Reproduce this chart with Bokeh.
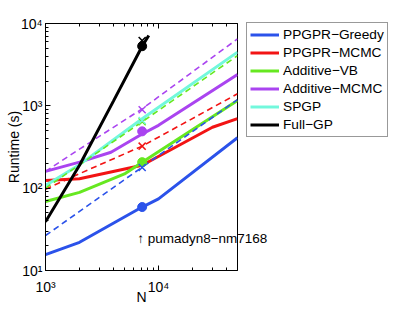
from bokeh.plotting import figure
from bokeh.models import ColumnDataSource, Legend, LegendItem, LogAxis, FixedTicker, Label
from bokeh.embed import file_html
from bokeh.resources import INLINE

# ---- data ----
greedy_N = [1000, 2000, 7168, 10000, 50000]
greedy_t = [15.6, 22, 59, 74, 410]
greedy_dash_N = [1000, 7168, 50000]
greedy_dash_t = [26.6, 180, 1190]

mcmc_N = [1000, 2000, 7168, 30000, 50000]
mcmc_t = [124, 130, 190, 550, 700]
mcmc_dash_N = [1000, 2000, 7168, 50000]
mcmc_dash_t = [97, 150, 324, 1400]

vb_N = [1000, 2000, 5000, 7168, 50000]
vb_t = [69, 89, 149, 207, 1160]
vb_dash_N = [1000, 7168, 50000]
vb_dash_t = [100, 640, 4070]

add_N = [1000, 2000, 3800, 7168, 10000, 50000]
add_t = [160, 207, 273, 455, 580, 2400]
add_dash_N = [1000, 2000, 7168, 50000]
add_dash_t = [160, 298, 920, 6500]

spgp_N = [1000, 2000, 7168, 50000]
spgp_t = [108, 193, 696, 4490]

full_N = [1000, 2000, 4000, 7168, 8200]
full_t = [39, 190, 1150, 5300, 7150]

dataset_N = 7168
dataset_label = "\u2191 pumadyn8\u2212nm7168"
dataset_label_t = 24.8
dot_t = [59, 207, 490, 5300]
cross_t = [178, 324, 640, 664, 895, 6200]

labels = ["PPGPR\u2212Greedy", "PPGPR\u2212MCMC", "Additive\u2212VB",
          "Additive\u2212MCMC", "SPGP", "Full\u2212GP"]

x_major = [1000, 10000]
x_minor = [2000, 3000, 4000, 5000, 6000, 7000, 8000, 9000, 20000, 30000, 40000, 50000]
y_major = [10, 100, 1000, 10000]
y_minor = [m * d for d in (10, 100, 1000) for m in range(2, 10)]
x_tick_labels = {1000: "10\u00b3", 10000: "10\u2074"}
y_tick_labels = {10: "10\u00b9", 100: "10\u00b2", 1000: "10\u00b3", 10000: "10\u2074"}

# ---- styles ----
BLUE = "#2b52ea"
RED = "#f21414"
GREEN = "#66e820"
PURPLE = "#aa44f0"
CYAN = "#72f8dc"
BLACK = "#000000"
FONT = "Liberation Sans"
DASH = "6 4"
W = 3
DW = 1.6

p = figure(x_axis_type="log", y_axis_type="log",
           x_range=(1000, 50000), y_range=(10, 10000),
           frame_width=192, frame_height=247,
           min_border_left=45, min_border_right=162,
           min_border_top=23, min_border_bottom=36,
           output_backend="svg", toolbar_location=None)
p.background_fill_color = "white"
p.border_fill_color = "white"
p.outline_line_color = "black"
p.outline_line_width = 1
p.xgrid.visible = False
p.ygrid.visible = False

def style_axis(ax, ticker, overrides):
    ax.ticker = ticker
    ax.major_label_overrides = overrides
    ax.axis_line_color = "black"
    ax.major_tick_in = 5
    ax.major_tick_out = 0
    ax.minor_tick_in = 3
    ax.minor_tick_out = 0
    ax.major_tick_line_color = "black"
    ax.minor_tick_line_color = "black"
    ax.major_label_text_font = FONT
    ax.major_label_text_font_size = "14px"
    ax.major_label_text_color = "black"
    ax.axis_label_text_font = FONT
    ax.axis_label_text_font_size = "14px"
    ax.axis_label_text_font_style = "normal"
    ax.axis_label_text_color = "black"

style_axis(p.xaxis[0], FixedTicker(ticks=x_major, minor_ticks=x_minor), x_tick_labels)
style_axis(p.yaxis[0], FixedTicker(ticks=y_major, minor_ticks=y_minor), y_tick_labels)
p.xaxis.axis_label = "N"
p.yaxis.axis_label = "Runtime (s)"
p.xaxis.major_label_standoff = 8
p.xaxis.axis_label_standoff = -9
p.yaxis.major_label_standoff = 3
p.yaxis.axis_label_standoff = -4

top_ax = LogAxis()
style_axis(top_ax, FixedTicker(ticks=x_major, minor_ticks=x_minor),
           {k: " " for k in x_major})
top_ax.major_label_text_alpha = 0
top_ax.major_label_text_font_size = "1px"
top_ax.major_label_standoff = 0
p.add_layout(top_ax, "above")

# ---- lines ----
r_greedy = p.line(greedy_N, greedy_t, line_color=BLUE, line_width=W)
r_mcmc = p.line(mcmc_N, mcmc_t, line_color=RED, line_width=W)
r_vb = p.line(vb_N, vb_t, line_color=GREEN, line_width=W)
r_add = p.line(add_N, add_t, line_color=PURPLE, line_width=W)
r_spgp = p.line(spgp_N, spgp_t, line_color=CYAN, line_width=W)

p.line(greedy_dash_N, greedy_dash_t, line_color=BLUE, line_width=DW, line_dash=DASH)
p.line(mcmc_dash_N, mcmc_dash_t, line_color=RED, line_width=DW, line_dash=DASH)
p.line(vb_dash_N, vb_dash_t, line_color=GREEN, line_width=DW, line_dash=DASH)
p.line(add_dash_N, add_dash_t, line_color=PURPLE, line_width=DW, line_dash=DASH)

r_full = p.line(full_N, full_t, line_color=BLACK, line_width=W)

# ---- dataset markers ----
dots = ColumnDataSource(dict(x=[dataset_N] * len(dot_t), y=dot_t,
                             c=[BLUE, GREEN, PURPLE, BLACK]))
p.scatter("x", "y", source=dots, marker="circle", size=9,
          fill_color="c", line_color="c")
crosses = ColumnDataSource(dict(x=[dataset_N] * len(cross_t), y=cross_t,
                                c=[BLUE, RED, GREEN, CYAN, PURPLE, BLACK]))
p.scatter("x", "y", source=crosses, marker="x", size=10,
          line_color="c", line_width=1.5)

# dataset annotation (side panel so that it is not clipped by the frame)
p.add_layout(Label(x=dataset_N, y=dataset_label_t, text=dataset_label,
                   text_font=FONT, text_font_size="13.5px", text_color="black",
                   text_line_height=0.6,
                   text_align="left", text_baseline="alphabetic", x_offset=-5), "above")

# ---- legend (right side panel, next to the axes box) ----
legend = Legend(items=[LegendItem(label=l, renderers=[r]) for l, r in
                       zip(labels, [r_greedy, r_mcmc, r_vb, r_add, r_spgp, r_full])],
                location=(9, 133))
legend.label_text_font = FONT
legend.label_text_font_size = "13.7px"
legend.label_text_color = "black"
legend.glyph_width = 29
legend.glyph_height = 17
legend.label_height = 17
legend.label_standoff = 4
legend.spacing = 1
legend.padding = 3
legend.margin = 0
legend.border_line_color = "#333333"
legend.border_line_width = 1
legend.background_fill_color = "white"
legend.background_fill_alpha = 1
p.add_layout(legend, "right")

open("out.html", "w").write(file_html(p, INLINE))
